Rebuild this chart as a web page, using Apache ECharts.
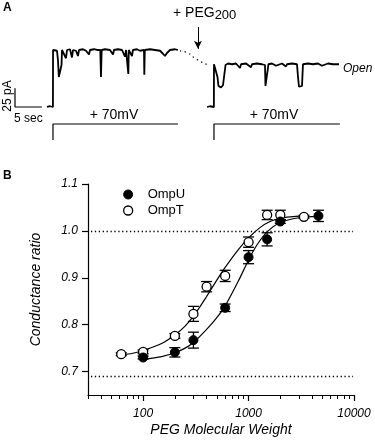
<!DOCTYPE html>
<html>
<head>
<meta charset="utf-8">
<script src="https://cdn.jsdelivr.net/npm/echarts@6/dist/echarts.min.js"></script>
<style>
  html, body { margin: 0; padding: 0; background: #fff; }
  #chart { width: 375px; height: 445px; }
</style>
</head>
<body>
<div id="chart"></div>
<script>
// panel A: current trace (sec, pA) before and after PEG200
var traceTime1 = [5.93, 6.5, 7.03, 7.05, 7.41, 7.78, 7.97, 8.12, 8.43, 8.62, 8.71, 9.08, 9.45, 9.64, 10.19, 10.56, 10.75, 11.30, 11.67, 11.86, 12.60, 13.16, 13.71, 13.90, 14.64, 15.20, 15.80, 15.93, 16.06, 16.68, 17.60, 18.16, 18.34, 19.08, 19.83, 20.38, 20.57, 20.94, 21.00, 21.08, 21.68, 21.86, 22.60, 23.16, 23.90, 23.96, 24.05, 25.01, 25.94, 26.87, 27.42, 27.79, 28.16, 28.72, 29.65, 30.20];
var traceCurrent1 = [0, 1, 0, 76, 77, 75, 62, 40, 38, 56, 76, 74, 65, 76, 77, 66, 76, 75, 68, 76, 77, 75, 70, 76, 77, 76, 76, 40, 76, 77, 76, 70, 76, 77, 76, 67, 76, 76, 44, 76, 68, 76, 77, 75, 76, 43, 76, 77, 76, 75, 71, 68, 72, 76, 77, 76];
var traceTime2 = [35.58, 36.13, 36.85, 36.87, 37.24, 37.52, 37.70, 38.17, 38.54, 38.82, 39.01, 39.46, 40.20, 40.95, 41.69, 41.88, 42.80, 43.73, 43.91, 44.84, 45.77, 46.32, 46.41, 46.78, 46.97, 47.62, 48.36, 48.55, 49.47, 50.21, 50.40, 51.33, 52.25, 52.44, 52.62, 53.18, 53.36, 54.29, 55.22, 56.14, 56.88, 57.07, 57.99, 58.92, 60.03];
var traceCurrent2 = [0, 1, 0, 57, 58, 40, 28, 26, 29, 27, 56, 58, 57, 58, 52, 57, 58, 53, 57, 58, 57, 56, 28, 27, 57, 58, 55, 57, 58, 54, 57, 58, 57, 40, 27, 28, 57, 58, 57, 58, 55, 57, 58, 57, 57];
var gapTime = [30.57, 32.06, 33.54, 35.76];
var gapCurrent = [74.7, 72, 64, 56];
var stepTime1 = [7.04, 7.04, 30.2];
var stepTime2 = [36.87, 36.87, 60.2];
var stepVolt = [0, 70, 70];
var scaleTime = [0, 0, 5];
var scaleCurrent = [25, 0, 0];

// panel B: conductance ratio vs PEG molecular weight
var ompuMw = [100, 200, 300, 600, 1000, 1500, 2000, 4600];
var ompuRatio = [0.730, 0.741, 0.767, 0.836, 0.944, 0.982, 1.020, 1.032];
var ompuErr = [0.003, 0.010, 0.017, 0.008, 0.014, 0.014, 0.004, 0.012];
var omptMw = [62, 100, 200, 300, 400, 600, 1000, 1500, 2000, 3350];
var omptRatio = [0.737, 0.742, 0.776, 0.823, 0.881, 0.904, 0.976, 1.034, 1.034, 1.030];
var omptErr = [0.003, 0.004, 0.005, 0.016, 0.011, 0.012, 0.011, 0.010, 0.010, 0.003];
// fitted curves
var ompuFitMw = [100, 150, 200, 250, 300, 400, 500, 600, 800, 1000, 1200, 1500, 2000, 3000, 4600];
var ompuFitRatio = [0.726, 0.732, 0.740, 0.750, 0.762, 0.790, 0.815, 0.840, 0.893, 0.938, 0.970, 0.998, 1.018, 1.028, 1.031];
var omptFitMw = [62, 80, 100, 150, 200, 250, 300, 400, 500, 600, 800, 1000, 1300, 1600, 2000, 2500, 3350];
var omptFitRatio = [0.735, 0.739, 0.745, 0.760, 0.778, 0.797, 0.818, 0.860, 0.895, 0.922, 0.960, 0.985, 1.008, 1.020, 1.027, 1.030, 1.032];
var yTicks = [0.7, 0.8, 0.9, 1.0, 1.1];
var xMajorTicks = [100, 1000, 10000];
var xMinorTicks = [30, 40, 50, 60, 70, 80, 90, 200, 300, 400, 500, 600, 700, 800, 900, 2000, 3000, 4000, 5000, 6000, 7000, 8000, 9000];
var refLines = [1.0, 0.69];

var FONT = 'Liberation Sans, Arial, sans-serif';

function zip(a, b) {
  return a.map(function (v, i) { return [v, b[i]]; });
}

function errData(mw, ratio, err) {
  return mw.map(function (v, i) { return [v, ratio[i] - err[i], ratio[i] + err[i]]; });
}

function renderErr(params, api) {
  var top = api.coord([api.value(0), api.value(2)]);
  var bot = api.coord([api.value(0), api.value(1)]);
  var w = 5.5;
  var st = { stroke: '#000', lineWidth: 1.3 };
  return {
    type: 'group',
    children: [
      { type: 'line', shape: { x1: top[0], y1: top[1], x2: bot[0], y2: bot[1] }, style: st },
      { type: 'line', shape: { x1: top[0] - w, y1: top[1], x2: top[0] + w, y2: top[1] }, style: st },
      { type: 'line', shape: { x1: bot[0] - w, y1: bot[1], x2: bot[0] + w, y2: bot[1] }, style: st }
    ]
  };
}

var chart = echarts.init(document.getElementById('chart'));

var option = {
  animation: false,
  textStyle: { fontFamily: FONT },
  grid: [
    { left: 15, top: 10, width: 340, height: 130 },
    { left: 88, top: 184, width: 266, height: 211 }
  ],
  xAxis: [
    { gridIndex: 0, type: 'value', min: 0, max: 63, show: false },
    {
      gridIndex: 1, type: 'log', min: 30, max: 10000,
      name: 'PEG Molecular Weight', nameLocation: 'middle', nameGap: 28,
      nameTextStyle: { fontSize: 14, fontStyle: 'italic', color: '#000', fontFamily: FONT },
      axisLine: { lineStyle: { color: '#000', width: 1.2 } },
      axisTick: { customValues: xMinorTicks, length: 4, lineStyle: { color: '#000' } },
      axisLabel: { show: false },
      splitLine: { show: false }
    },
    {
      gridIndex: 1, type: 'log', min: 30, max: 10000, position: 'bottom',
      axisLine: { show: false },
      axisTick: { customValues: xMajorTicks, length: 6, lineStyle: { color: '#000', width: 1.2 } },
      axisLabel: {
        customValues: xMajorTicks, margin: 13, fontSize: 12, fontStyle: 'italic',
        color: '#000', fontFamily: FONT,
        formatter: function (v) { return String(Math.round(v)); }
      },
      splitLine: { show: false }
    }
  ],
  yAxis: [
    { gridIndex: 0, type: 'value', min: -44, max: 129.33, show: false },
    { gridIndex: 0, type: 'value', min: 0, max: 568.75, show: false },
    {
      gridIndex: 1, type: 'value', min: 0.65, max: 1.1,
      name: 'Conductance ratio', nameLocation: 'middle', nameGap: 45,
      nameTextStyle: { fontSize: 14, fontStyle: 'italic', color: '#000', fontFamily: FONT },
      axisLine: { show: true, lineStyle: { color: '#000', width: 1.2 } },
      axisTick: { show: true, customValues: yTicks, length: 6, lineStyle: { color: '#000', width: 1.2 } },
      axisLabel: {
        customValues: yTicks, margin: 10, fontSize: 12, fontStyle: 'italic', color: '#000',
        fontFamily: FONT,
        formatter: function (v) { return v.toFixed(1); }
      },
      splitLine: { show: false }
    }
  ],
  legend: {
    left: 118, top: 183, orient: 'vertical', itemGap: 3,
    itemWidth: 9, itemHeight: 9,
    textStyle: { fontSize: 13, color: '#000', fontFamily: FONT, padding: [0, 0, 0, 10] },
    data: [
      { name: 'OmpU', icon: 'circle', itemStyle: { color: '#000', borderColor: '#000', borderWidth: 1 } },
      { name: 'OmpT', icon: 'circle', itemStyle: { color: '#fff', borderColor: '#000', borderWidth: 1.3 } }
    ]
  },
  graphic: [
    { type: 'text', left: 3, top: 2, style: { text: 'A', font: 'bold 12px ' + FONT, fill: '#000' } },
    { type: 'text', left: 3, top: 170, style: { text: 'B', font: 'bold 12px ' + FONT, fill: '#000' } },
    {
      type: 'text', x: 173, y: 6,
      style: {
        text: '{m|+ PEG}{s|200}', fill: '#000',
        rich: {
          m: { fontSize: 14, fontFamily: FONT, verticalAlign: 'top', lineHeight: 16 },
          s: { fontSize: 13, fontFamily: FONT, verticalAlign: 'bottom', lineHeight: 16, padding: [8, 0, 0, 0] }
        }
      }
    },
    { type: 'text', x: 114, y: 115, style: { text: '+ 70mV', font: '14px ' + FONT, fill: '#000', align: 'center', verticalAlign: 'middle' } },
    { type: 'text', x: 274, y: 115, style: { text: '+ 70mV', font: '14px ' + FONT, fill: '#000', align: 'center', verticalAlign: 'middle' } },
    { type: 'text', x: 343, y: 69, style: { text: 'Open', font: 'italic 12px ' + FONT, fill: '#000', verticalAlign: 'middle' } },
    { type: 'text', x: 14, y: 119, style: { text: '5 sec', font: '12px ' + FONT, fill: '#000', verticalAlign: 'middle' } },
    { type: 'text', x: 8, y: 96, rotation: Math.PI / 2, style: { text: '25 pA', font: '12px ' + FONT, fill: '#000', align: 'center', verticalAlign: 'middle' } }
  ],
  series: [
    // panel A
    {
      type: 'line', xAxisIndex: 0, yAxisIndex: 0, data: zip(traceTime1, traceCurrent1),
      showSymbol: false, lineStyle: { color: '#000', width: 1.8 }, silent: true
    },
    {
      type: 'line', xAxisIndex: 0, yAxisIndex: 0, data: zip(traceTime2, traceCurrent2),
      showSymbol: false, lineStyle: { color: '#000', width: 1.8 }, silent: true,
      markLine: {
        silent: true, symbol: ['none', 'arrow'], symbolSize: [6, 8],
        lineStyle: { color: '#000', width: 1, type: 'solid' }, label: { show: false },
        data: [[{ coord: [33.9, 106.7] }, { coord: [33.9, 77.5] }]]
      }
    },
    {
      type: 'line', xAxisIndex: 0, yAxisIndex: 0, data: zip(gapTime, gapCurrent),
      showSymbol: false, smooth: true,
      lineStyle: { color: '#000', width: 1.3, type: [1.3, 3.5] }, silent: true
    },
    {
      type: 'line', xAxisIndex: 0, yAxisIndex: 0, data: zip(scaleTime, scaleCurrent),
      showSymbol: false, lineStyle: { color: '#000', width: 1.2 }, silent: true
    },
    {
      type: 'line', xAxisIndex: 0, yAxisIndex: 1, data: zip(stepTime1, stepVolt),
      showSymbol: false, lineStyle: { color: '#000', width: 1.2 }, silent: true
    },
    {
      type: 'line', xAxisIndex: 0, yAxisIndex: 1, data: zip(stepTime2, stepVolt),
      showSymbol: false, lineStyle: { color: '#000', width: 1.2 }, silent: true
    },
    // panel B
    {
      type: 'line', xAxisIndex: 1, yAxisIndex: 2, data: [[30, refLines[0]], [10000, refLines[0]]],
      showSymbol: false, silent: true, lineStyle: { opacity: 0 },
      markLine: {
        silent: true, symbol: 'none', label: { show: false },
        lineStyle: { color: '#000', width: 1.3, type: [1.3, 2.6] },
        data: [
          [{ coord: [32, refLines[0]] }, { coord: [9800, refLines[0]] }],
          [{ coord: [32, refLines[1]] }, { coord: [9800, refLines[1]] }]
        ]
      }
    },
    {
      type: 'line', xAxisIndex: 1, yAxisIndex: 2, data: zip(omptFitMw, omptFitRatio),
      showSymbol: false, smooth: 0.3, lineStyle: { color: '#000', width: 1.2 }, silent: true
    },
    {
      type: 'line', xAxisIndex: 1, yAxisIndex: 2, data: zip(ompuFitMw, ompuFitRatio),
      showSymbol: false, smooth: 0.3, lineStyle: { color: '#000', width: 1.2 }, silent: true
    },
    {
      type: 'custom', xAxisIndex: 1, yAxisIndex: 2, renderItem: renderErr,
      data: errData(omptMw, omptRatio, omptErr), silent: true, z: 3
    },
    {
      type: 'custom', xAxisIndex: 1, yAxisIndex: 2, renderItem: renderErr,
      data: errData(ompuMw, ompuRatio, ompuErr), silent: true, z: 3
    },
    {
      name: 'OmpT', type: 'scatter', xAxisIndex: 1, yAxisIndex: 2, data: zip(omptMw, omptRatio),
      symbol: 'circle', symbolSize: 9, z: 5,
      itemStyle: { color: '#fff', borderColor: '#000', borderWidth: 1.3, opacity: 1 }
    },
    {
      name: 'OmpU', type: 'scatter', xAxisIndex: 1, yAxisIndex: 2, data: zip(ompuMw, ompuRatio),
      symbol: 'circle', symbolSize: 9, z: 6,
      itemStyle: { color: '#000', borderColor: '#000', borderWidth: 1, opacity: 1 }
    }
  ]
};

chart.setOption(option);
</script>
</body>
</html>
